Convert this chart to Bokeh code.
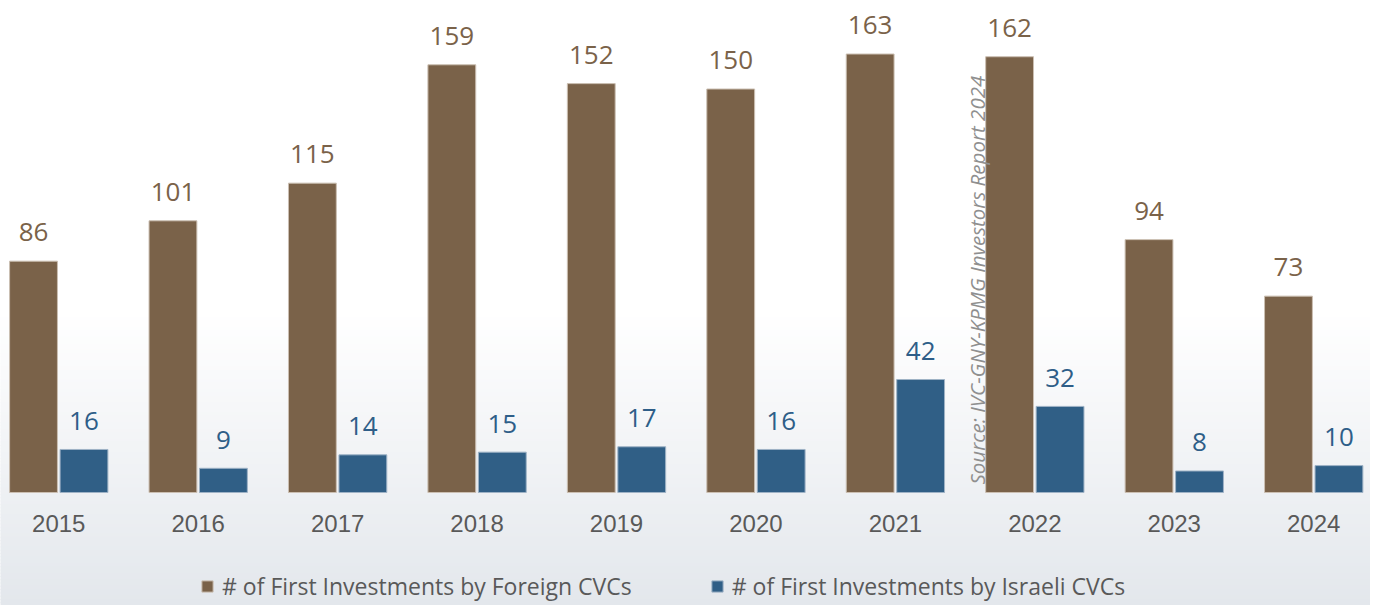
from bokeh.plotting import figure
from bokeh.models import ColumnDataSource, Range1d, Legend, LegendItem, Label
from bokeh.core.properties import value
from bokeh.transform import dodge
from bokeh.embed import file_html
from bokeh.resources import INLINE

# ---- data ----
years = ["2015", "2016", "2017", "2018", "2019", "2020", "2021", "2022", "2023", "2024"]
foreign_cvcs = [86, 101, 115, 159, 152, 150, 163, 162, 94, 73]
israeli_cvcs = [16, 9, 14, 15, 17, 16, 42, 32, 8, 10]
series_names = ["# of First Investments by Foreign CVCs",
                "# of First Investments by Israeli CVCs"]
source_note = "Source: IVC-GNY-KPMG Investors Report 2024"

# ---- style / layout ----
BROWN = "#7a6249"
BLUE = "#305f86"
W, H = 1370, 605
PX_X = 139.44      # pixels per category
PX_Y = 2.69        # pixels per unit
X0_PX = 58.25      # first category centre from left edge
BASE_PX = 492      # baseline from top edge
OFF = 0.181        # dodge offset (categories)
BW = 0.343         # bar width (categories)

x_start = -X0_PX / PX_X
x_end = x_start + W / PX_X
y_end = BASE_PX / PX_Y
y_start = y_end - H / PX_Y

p = figure(width=W, height=H, x_range=Range1d(x_start, x_end),
           y_range=Range1d(y_start, y_end), output_backend="svg",
           toolbar_location=None, min_border=0,
           x_axis_type=None, y_axis_type=None)
p.grid.visible = False
p.outline_line_color = None
p.background_fill_color = "white"
p.border_fill_color = "white"

# background gradient (white -> light grey towards the bottom)
n = 90
g0 = 310.0
step = (H - g0) / n
c0 = (255, 255, 255)
c1 = (227, 231, 236)
tops, bottoms, cols = [], [], []
for k in range(n):
    t = k / (n - 1)
    col = tuple(int(round(c0[j] + (c1[j] - c0[j]) * t)) for j in range(3))
    top_px = g0 + k * step
    tops.append(y_end - top_px / PX_Y)
    bottoms.append(y_end - (top_px + step + 1) / PX_Y)
    cols.append("#%02x%02x%02x" % col)
p.quad(left=x_start - 1, right=x_end + 1, top=tops, bottom=bottoms,
       fill_color=cols, line_color=None)

idx = list(range(len(years)))
src = ColumnDataSource(dict(
    x=idx, year=years, foreign=foreign_cvcs, israeli=israeli_cvcs,
    foreign_lbl=[str(v) for v in foreign_cvcs],
    israeli_lbl=[str(v) for v in israeli_cvcs],
    foreign_ly=[v + 29 / PX_Y for v in foreign_cvcs],
    israeli_ly=[v + 28.5 / PX_Y for v in israeli_cvcs],
    year_y=[-30.5 / PX_Y] * len(years),
))

r1 = p.vbar(x=dodge("x", -OFF, range=p.x_range), top="foreign", bottom=0,
            width=BW, source=src, fill_color=BROWN,
            line_color="#cbbfb2", line_width=1)
r2 = p.vbar(x=dodge("x", OFF, range=p.x_range), top="israeli", bottom=0,
            width=BW, source=src, fill_color=BLUE,
            line_color="#9fb3c6", line_width=1)

p.text(x=dodge("x", -OFF, range=p.x_range), y="foreign_ly", text="foreign_lbl",
       source=src, text_align="center", text_baseline="middle",
       text_font=value("Open Sans"), text_font_size="26px", text_color=BROWN)
p.text(x=dodge("x", OFF, range=p.x_range), y="israeli_ly", text="israeli_lbl",
       source=src, text_align="center", text_baseline="middle",
       text_font=value("Open Sans"), text_font_size="26px", text_color="#2e5e88")
p.text(x="x", y="year_y", text="year", source=src, text_align="center",
       text_baseline="middle", text_font=value("Liberation Sans"),
       text_font_size="24px", text_color="#595959")

src_lbl = Label(x=x_start + 976 / PX_X, y=y_end - 484 / PX_Y, text=source_note,
                angle=90, angle_units="deg", text_align="left",
                text_baseline="middle", text_font="Open Sans",
                text_font_style="italic", text_font_size="20.5px",
                text_color="#8f8f8f")
p.add_layout(src_lbl)

legend = Legend(items=[LegendItem(label=series_names[0], renderers=[r1]),
                       LegendItem(label=series_names[1], renderers=[r2])],
                orientation="horizontal", location=(200, 3),
                glyph_width=14, glyph_height=14, label_standoff=8,
                spacing=78, padding=0, margin=0,
                border_line_color=None, background_fill_alpha=0,
                label_text_font="Open Sans", label_text_font_size="23px",
                label_text_color="#595959")
p.add_layout(legend)

open("out.html", "w").write(file_html(p, INLINE))
